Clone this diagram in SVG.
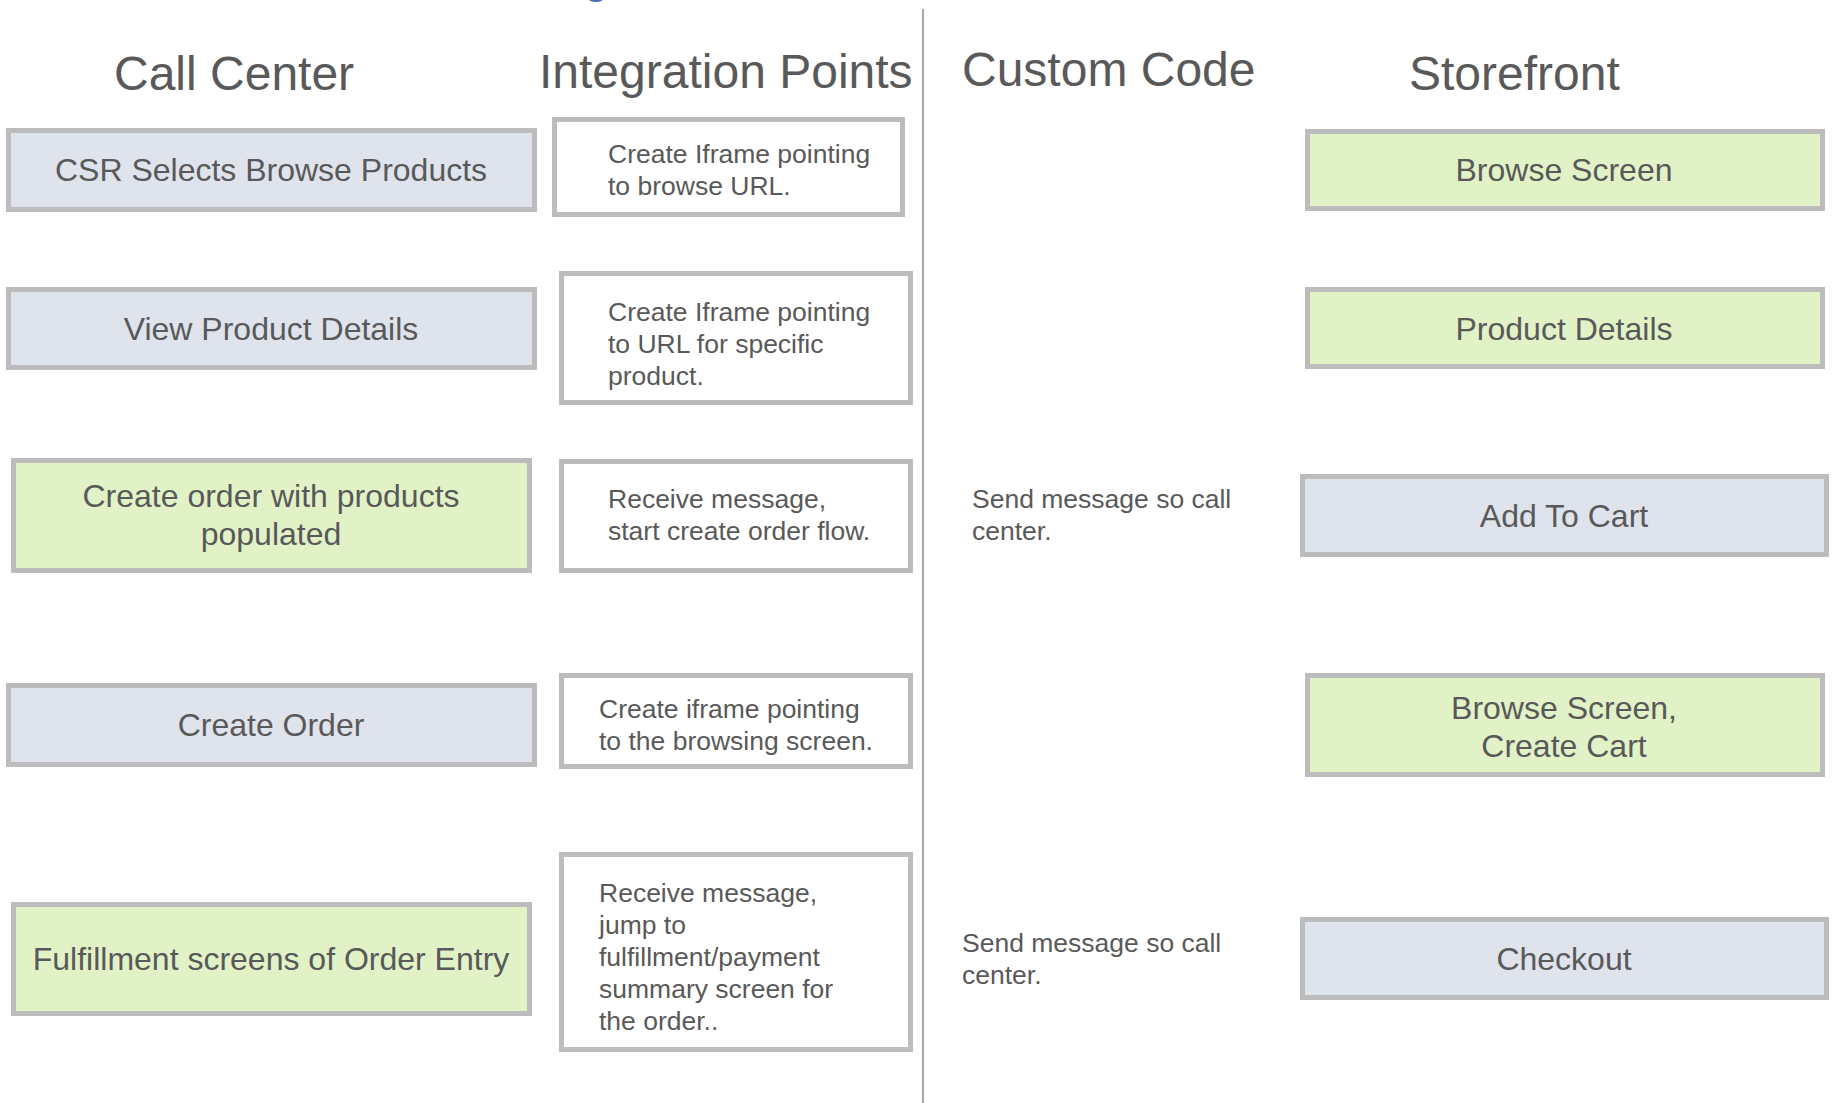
<svg xmlns="http://www.w3.org/2000/svg" width="1841" height="1103" viewBox="0 0 1841 1103">
<style>
.box{stroke:#bcbcbc;stroke-width:5}
.blue{fill:#dfe3ec}
.green{fill:#e1f2c7}
.white{fill:#ffffff}
.t{font-family:"Liberation Sans",Arial,sans-serif;fill:#595959}
.title{font-size:48px}
.lbl{font-size:32px;text-anchor:middle}
.sm{font-size:26.5px}
</style>
<rect width="1841" height="1103" fill="#ffffff"/>
<text class="t" x="583" y="-8" style="font-size:48px;fill:#4a6fb5">g</text>
<g id="headers">
<text class="t title" x="114" y="90">Call Center</text>
<text class="t title" x="539" y="88">Integration Points</text>
<text class="t title" x="962" y="86">Custom Code</text>
<text class="t title" x="1409" y="90">Storefront</text>
</g>
<g id="connectors">
<line x1="923" y1="9" x2="923" y2="1103" stroke="#a6a6a6" stroke-width="2"/>
</g>
<g id="cc1"><rect class="box blue" x="8.5" y="130.5" width="526" height="79"/><text class="t lbl" x="271" y="181">CSR Selects Browse Products</text></g>
<g id="cc2"><rect class="box blue" x="8.5" y="289.5" width="526" height="78"/><text class="t lbl" x="271" y="340">View Product Details</text></g>
<g id="cc3"><rect class="box green" x="13.5" y="460.5" width="516" height="110"/><text class="t lbl" x="271" y="507">Create order with products</text><text class="t lbl" x="271" y="545">populated</text></g>
<g id="cc4"><rect class="box blue" x="8.5" y="685.5" width="526" height="79"/><text class="t lbl" x="271" y="736">Create Order</text></g>
<g id="cc5"><rect class="box green" x="13.5" y="904.5" width="516" height="109"/><text class="t lbl" x="271" y="970">Fulfillment screens of Order Entry</text></g>
<g id="ip1"><rect class="box white" x="554.5" y="119.5" width="348" height="95"/><text class="t sm" x="608" y="163">Create Iframe pointing</text><text class="t sm" x="608" y="195">to browse URL.</text></g>
<g id="ip2"><rect class="box white" x="561.5" y="273.5" width="349" height="129"/><text class="t sm" x="608" y="321">Create Iframe pointing</text><text class="t sm" x="608" y="353">to URL for specific</text><text class="t sm" x="608" y="385">product.</text></g>
<g id="ip3"><rect class="box white" x="561.5" y="461.5" width="349" height="109"/><text class="t sm" x="608" y="508">Receive message,</text><text class="t sm" x="608" y="540">start create order flow.</text></g>
<g id="ip4"><rect class="box white" x="561.5" y="675.5" width="349" height="91"/><text class="t sm" x="599" y="718">Create iframe pointing</text><text class="t sm" x="599" y="750">to the browsing screen.</text></g>
<g id="ip5"><rect class="box white" x="561.5" y="854.5" width="349" height="195"/><text class="t sm" x="599" y="902">Receive message,</text><text class="t sm" x="599" y="934">jump to</text><text class="t sm" x="599" y="966">fulfillment/payment</text><text class="t sm" x="599" y="998">summary screen for</text><text class="t sm" x="599" y="1030">the order..</text></g>
<g id="code1"><text class="t sm" x="972" y="508">Send message so call</text><text class="t sm" x="972" y="540">center.</text></g>
<g id="code2"><text class="t sm" x="962" y="952">Send message so call</text><text class="t sm" x="962" y="984">center.</text></g>
<g id="sf1"><rect class="box green" x="1307.5" y="131.5" width="515" height="77"/><text class="t lbl" x="1564" y="181">Browse Screen</text></g>
<g id="sf2"><rect class="box green" x="1307.5" y="289.5" width="515" height="77"/><text class="t lbl" x="1564" y="340">Product Details</text></g>
<g id="sf3"><rect class="box blue" x="1302.5" y="476.5" width="524" height="78"/><text class="t lbl" x="1564" y="527">Add To Cart</text></g>
<g id="sf4"><rect class="box green" x="1307.5" y="675.5" width="515" height="99"/><text class="t lbl" x="1564" y="719">Browse Screen,</text><text class="t lbl" x="1564" y="757">Create Cart</text></g>
<g id="sf5"><rect class="box blue" x="1302.5" y="919.5" width="524" height="78"/><text class="t lbl" x="1564" y="970">Checkout</text></g>
</svg>
